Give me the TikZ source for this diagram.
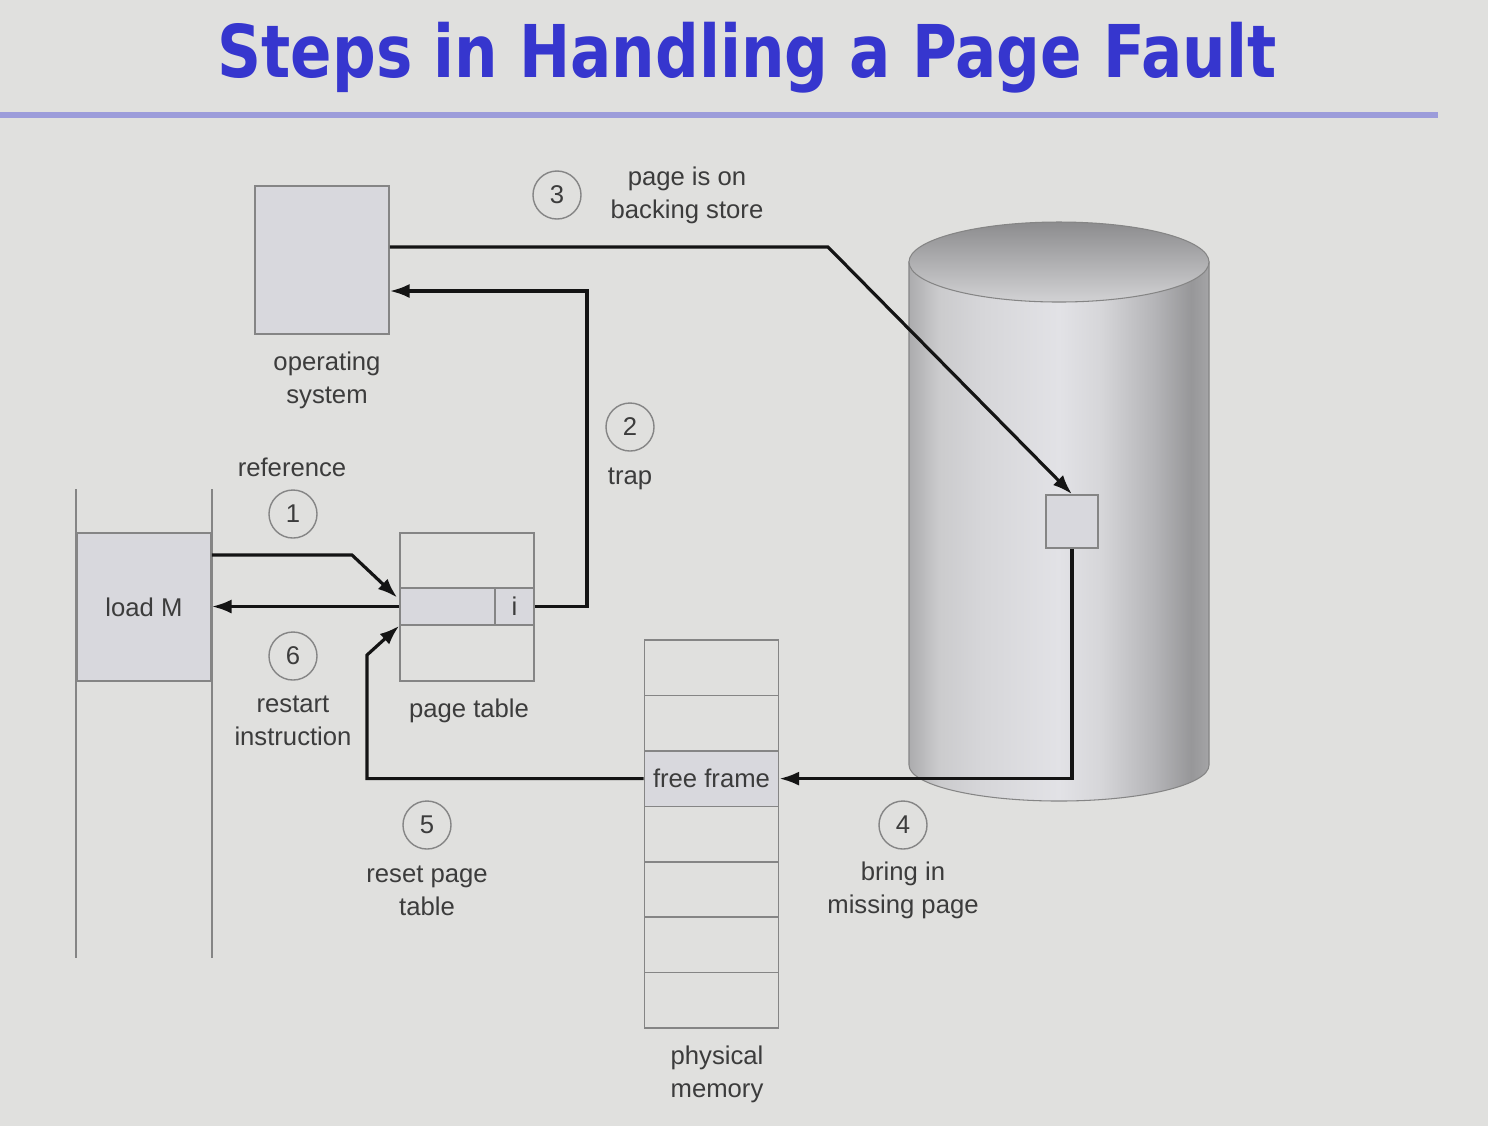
\documentclass[tikz,border=0pt]{standalone}
\usepackage{fontspec}
\setmainfont{Liberation Sans}
\newfontfamily\titlefont{DejaVu Sans}
\usetikzlibrary{calc}
\usetikzlibrary{arrows.meta}
\def\normaledge{0.9pt}
\def\boxedge{0.45pt}
\definecolor{slidegray}{HTML}{E0E0DE}
\definecolor{titleblue}{HTML}{3636CE}
\definecolor{rulelilac}{HTML}{9C9CDA}
\definecolor{boxline}{HTML}{858585}
\definecolor{boxfill}{HTML}{D8D8DD}
\definecolor{textgray}{HTML}{3C3C3C}
\definecolor{edgeblack}{rgb}{0.08,0.08,0.08}
\definecolor{cylA}{HTML}{ACACAE}
\definecolor{cylB}{HTML}{CBCBCD}
\definecolor{cylC}{HTML}{D6D6D9}
\definecolor{cylD}{HTML}{E2E2E6}
\definecolor{cylE}{HTML}{B4B4B7}
\definecolor{cylF}{HTML}{979799}
\definecolor{cylG}{HTML}{A4A4A6}
\definecolor{capdark}{HTML}{8C8C8E}
\definecolor{caplight}{HTML}{D2D2D4}
\pgfdeclarehorizontalshading{diskbody}{100bp}{color(0bp)=(cylA); color(25bp)=(cylA); color(30bp)=(cylB); color(37bp)=(cylC); color(50bp)=(cylD); color(57bp)=(cylC); color(66bp)=(cylE); color(72bp)=(cylF); color(75bp)=(cylG); color(100bp)=(cylG)}

\begin{document}
\begin{tikzpicture}[x = 0.01cm, y = -0.01cm, >={Latex[length=5.6pt,width=4pt]},
    labeltext/.style={text=textgray, font=\fontsize{7.3}{9.4}\selectfont, align=center, inner sep=0pt},
    stepnum/.style={circle, draw=boxline, line width=0.4pt, minimum size=0.48cm, inner sep=0pt, text=textgray, font=\fontsize{7.3}{9}\selectfont},
    framebox/.style={draw=boxline, line width=\boxedge, minimum width=1.34cm, inner sep=0pt},
    flow/.style={->, line width=\normaledge, color=edgeblack}]
        \useasboundingbox (0,0) rectangle (1488,1126);
        \fill [slidegray] (0,0) rectangle (1488,1126);

        \node [anchor=base, inner sep=0pt, xscale=0.84, text=titleblue, font=\titlefont\bfseries\fontsize{20.7}{24}\selectfont] (title) at (747,77) {Steps in Handling a Page Fault};
        \draw [rulelilac, line width=1.7pt] (0,115) -- (1438,115);

        % backing store
        \shade [shading=diskbody, draw=boxline, line width=0.3pt] (909,262) -- (909,765) arc[start angle=180, end angle=0, x radius=150, y radius=36] -- (1209,262) -- cycle;
        \shade [top color=capdark, bottom color=caplight, draw=boxline, line width=0.3pt] (1059,262) ellipse [x radius=150, y radius=40];
        \node [framebox, fill=boxfill, minimum width=0.52cm, minimum height=0.53cm] (blk) at (1072,521.5) {};

        % operating system
        \node [framebox, fill=boxfill, minimum height=1.48cm] (os) at (322,260) {};
        \node [labeltext] (oslabel) at (327,380) {operating\\system};

        % process
        \node [framebox, fill=boxfill, minimum height=1.48cm, labeltext] (load) at (144,607) {load M};
        \draw [boxline, line width=\boxedge] ($(load.north west)+(0,-43)$) -- ($(load.south west)+(0,276)$);
        \draw [boxline, line width=\boxedge] ($(load.north east)+(0,-43)$) -- ($(load.south east)+(0,276)$);

        % page table
        \node [framebox, minimum height=1.48cm] (pt) at (467,607) {};
        \node [framebox, fill=boxfill, minimum width=0.95cm, minimum height=0.37cm] (ptrow) at (447.5,606.5) {};
        \node [framebox, fill=boxfill, minimum width=0.39cm, minimum height=0.37cm, labeltext] (ibit) at (514.5,606.5) {i};
        \node [labeltext] (ptlabel) at (469,711) {page table};

        % physical memory
        \foreach \r in {0,1,3,4,5,6}
            \node [framebox, minimum height=0.554cm] (f\r) at (711.5,{667.7+55.43*\r}) {};
        \node [framebox, fill=boxfill, minimum height=0.554cm, labeltext] (f2) at (711.5,778.6) {free frame};
        \node [labeltext] (memlabel) at (717,1074) {physical\\memory};

        % steps
        \coordinate (r1) at (352,555);
        \draw [flow] (r1 -| load.east) -- (r1) -- ($(ptrow.west)+(-2,-9)$);
        \node [stepnum] (c1) at (293,514) {1};
        \node [labeltext] (reflabel) at (292,467) {reference};

        \coordinate (r2) at (587,291);
        \draw [flow] (ibit.east) -| (r2) -- (r2 -| os.east);
        \node [stepnum] (c2) at (630,427) {2};
        \node [labeltext] (traplabel) at (630,479) {trap};

        \coordinate (r3) at (828,247);
        \draw [flow] (r3 -| os.east) -- (r3) -- (blk.north);
        \node [stepnum] (c3) at (557,195) {3};
        \node [labeltext] (storelabel) at (687,195) {page is on\\backing store};

        \draw [flow] (blk.south) |- (f2.east);
        \node [stepnum] (c4) at (903,825) {4};
        \node [labeltext] (bringlabel) at (903,890) {bring in\\missing page};

        \coordinate (r5) at (367,655);
        \draw [flow] (f2.west) -| (r5) -- (ptrow.south west);
        \node [stepnum] (c5) at (427,825) {5};
        \node [labeltext] (resetlabel) at (427,891) {reset page\\table};

        \draw [flow] (ptrow.west) -- (ptrow.west -| load.east);
        \node [stepnum] (c6) at (293,656) {6};
        \node [labeltext] (restartlabel) at (293,721) {restart\\instruction};
\end{tikzpicture}
\end{document}
